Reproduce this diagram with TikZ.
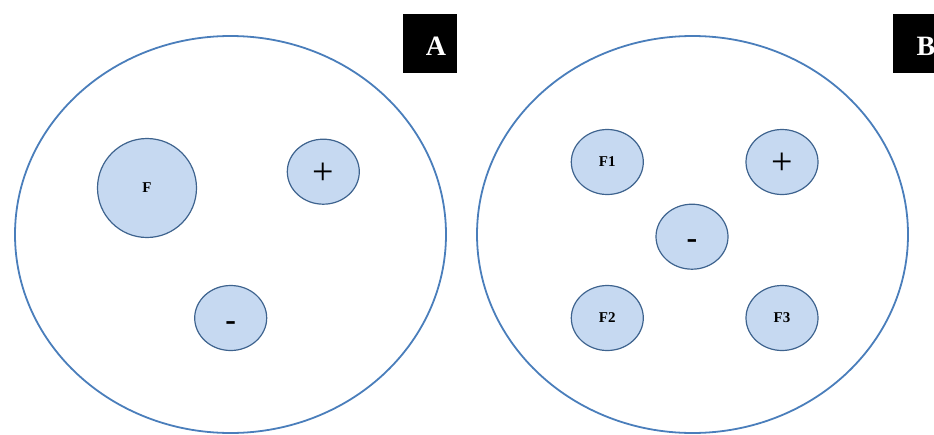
\documentclass[tikz,border=0pt]{standalone}
\usepackage{fontspec}
\setmainfont{Liberation Serif}
\usetikzlibrary{shapes.geometric}
\definecolor{cellfill}{HTML}{C6D9F1}
\definecolor{cellline}{HTML}{3E638E}
\definecolor{bigline}{HTML}{4A7EBB}
\newcommand{\plussign}{\raisebox{-12.5pt}[0pt][0pt]{\fontsize{38}{38}\selectfont +}}
\newcommand{\minussign}{\raisebox{-12pt}[0pt][0pt]{\fontsize{32}{32}\selectfont\bfseries -}}
\tikzset{
  bigcell/.style={ellipse, draw=bigline, line width=1.8pt, minimum width=431pt, minimum height=397pt, inner sep=0pt},
  cell/.style={ellipse, draw=cellline, fill=cellfill, line width=1.2pt, inner sep=0pt},
  smallcell/.style={cell, minimum width=72pt, minimum height=65pt},
  fagent/.style={font=\fontsize{15}{15}\selectfont\bfseries},
  tagbox/.style={fill=black, inner sep=0pt, minimum width=54pt, minimum height=59pt},
  tagtext/.style={text=white, font=\fontsize{28}{28}\selectfont\bfseries}
}
\begin{document}
\begin{tikzpicture}[x=1pt,y=-1pt]
\useasboundingbox (0,0) rectangle (934,434);
\clip (0,0) rectangle (934,434);
% panel A
\node[bigcell] (cellA) at (230.5,234.5) {};
\node[cell, minimum width=99pt, minimum height=99pt, fagent] (fA) at (147,188) {F};
\node[smallcell] (posA) at (323.3,171.7) {\plussign};
\node[smallcell] (negA) at (230.7,318) {\minussign};
\node[tagbox] (boxA) at (430,43.5) {};
\node[tagtext] (labA) at (436,46) {A};
% panel B
\node[bigcell] (cellB) at (692.5,234.5) {};
\node[smallcell, fagent] (f1) at (607.3,162) {F1};
\node[smallcell] (posB) at (782,162) {\plussign};
\node[smallcell] (negB) at (692,236.7) {\minussign};
\node[smallcell, fagent] (f2) at (607.3,318) {F2};
\node[smallcell, fagent] (f3) at (782,318) {F3};
\node[tagbox] (boxB) at (920,43.5) {};
\node[tagtext] (labB) at (926,46) {B};
\end{tikzpicture}
\end{document}
